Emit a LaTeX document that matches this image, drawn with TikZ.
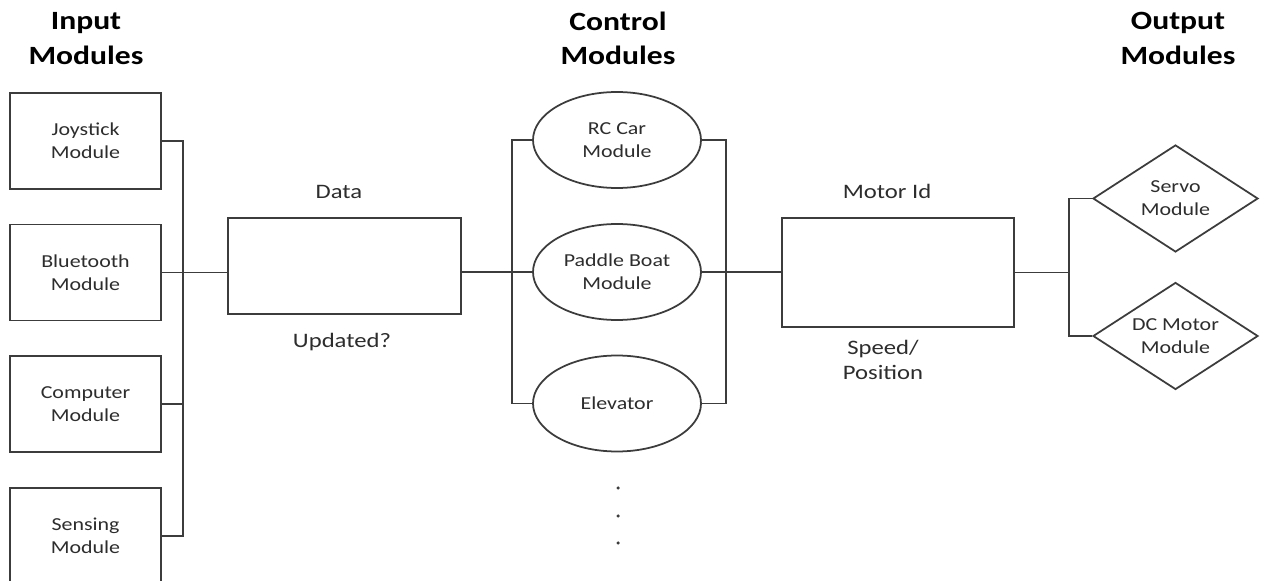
\documentclass[tikz,border=0pt]{standalone}
\usepackage{fontspec}
\setmainfont{Carlito}[FakeStretch=1.2]
\usepackage{xcolor}
\usetikzlibrary{shapes.geometric,positioning}
\definecolor{lineframe}{RGB}{60, 60, 60}
\definecolor{labeltext}{RGB}{45, 45, 45}

\tikzset{
    modbox/.style={draw=lineframe, line width=1pt, rectangle, minimum width=3.02cm, minimum height=1.92cm, inner sep=0pt, align=center, text=labeltext, font=\fontsize{10.4}{13}\selectfont},
    ctlellipse/.style={draw=lineframe, line width=1pt, ellipse, minimum width=3.36cm, minimum height=1.92cm, inner sep=0pt, align=center, text=labeltext, font=\fontsize{10.4}{13}\selectfont},
    outdiamond/.style={draw=lineframe, line width=1pt, diamond, aspect=1.54, minimum width=3.3cm, minimum height=2.14cm, inner sep=0pt, align=center, text=labeltext, font=\fontsize{10.4}{13}\selectfont},
    busbox/.style={draw=lineframe, line width=1pt, rectangle, inner sep=0pt},
    heading/.style={align=center, font=\fontsize{15}{19.5}\selectfont\bfseries},
    sidelabel/.style={align=center, text=labeltext, font=\fontsize{11.7}{14.3}\selectfont}
}

\begin{document}
\begin{tikzpicture}[line width=1pt, draw=lineframe]
        \clip (0, 0) rectangle (25.22, 11.6);
        \fill[white] (0, 0) rectangle (25.22, 11.6);

        % Headings
        \node[heading] (inhead) at (1.72, 10.83) {Input\\Modules};
        \node[heading] (ctlhead) at (12.36, 10.83) {Control\\Modules};
        \node[heading] (outhead) at (23.56, 10.83) {Output\\Modules};

        % Input modules
        \node[modbox] (joystick) at (1.71, 8.78) {Joystick\\Module};
        \node[modbox] (bluetooth) at (1.71, 6.15) {Bluetooth\\Module};
        \node[modbox] (computer) at (1.71, 3.52) {Computer\\Module};
        \node[modbox] (sensing) at (1.71, 0.88) {Sensing\\Module};
        \coordinate (inbus) at (3.66, 0);

        % Data block
        \node[busbox, minimum width=4.66cm, minimum height=1.92cm] (data) at (6.89, 6.28) {};
        \node[sidelabel] (datalbl) at (6.78, 7.76) {Data};
        \node[sidelabel] (updlbl) at (6.84, 4.76) {Updated?};

        % Control modules
        \node[ctlellipse] (rccar) at (12.34, 8.8) {RC Car\\Module};
        \node[ctlellipse] (paddle) at (12.34, 6.16) {Paddle Boat\\Module};
        \node[ctlellipse] (elevator) at (12.34, 3.53) {Elevator};
        \coordinate (ctlin) at (10.24, 0);
        \coordinate (ctlout) at (14.52, 0);
        \foreach \y in {1.84, 1.28, 0.74}
            \fill[lineframe] (12.36, \y) circle (0.035);

        % Motor block
        \node[busbox, minimum width=4.64cm, minimum height=2.18cm] (motor) at (17.96, 6.15) {};
        \node[sidelabel] (motorlbl) at (17.74, 7.78) {Motor Id};
        \node[sidelabel] (speedlbl) at (17.66, 4.4) {Speed/\\Position};

        % Output modules
        \node[outdiamond] (servo) at (23.51, 7.63) {Servo\\Module};
        \node[outdiamond] (dcmotor) at (23.51, 4.88) {DC Motor\\Module};
        \coordinate (outbus) at (21.38, 0);

        % Connections
        \draw (joystick.east) -- (joystick.east -| inbus) -- (sensing.east -| inbus) -- (sensing.east);
        \draw (computer.east) -- (computer.east -| inbus);
        \draw (bluetooth.east) -- (data.west |- bluetooth.east);
        \draw (data.east |- paddle.west) -- (paddle.west);
        \draw (rccar.west) -- (rccar.west -| ctlin) -- (elevator.west -| ctlin) -- (elevator.west);
        \draw (rccar.east) -- (rccar.east -| ctlout) -- (elevator.east -| ctlout) -- (elevator.east);
        \draw (paddle.east) -- (motor.west |- paddle.east);
        \draw (motor.east) -- (motor.east -| outbus);
        \draw (servo.west) -- (servo.west -| outbus) -- (dcmotor.west -| outbus) -- (dcmotor.west);
    \end{tikzpicture}
\end{document}
